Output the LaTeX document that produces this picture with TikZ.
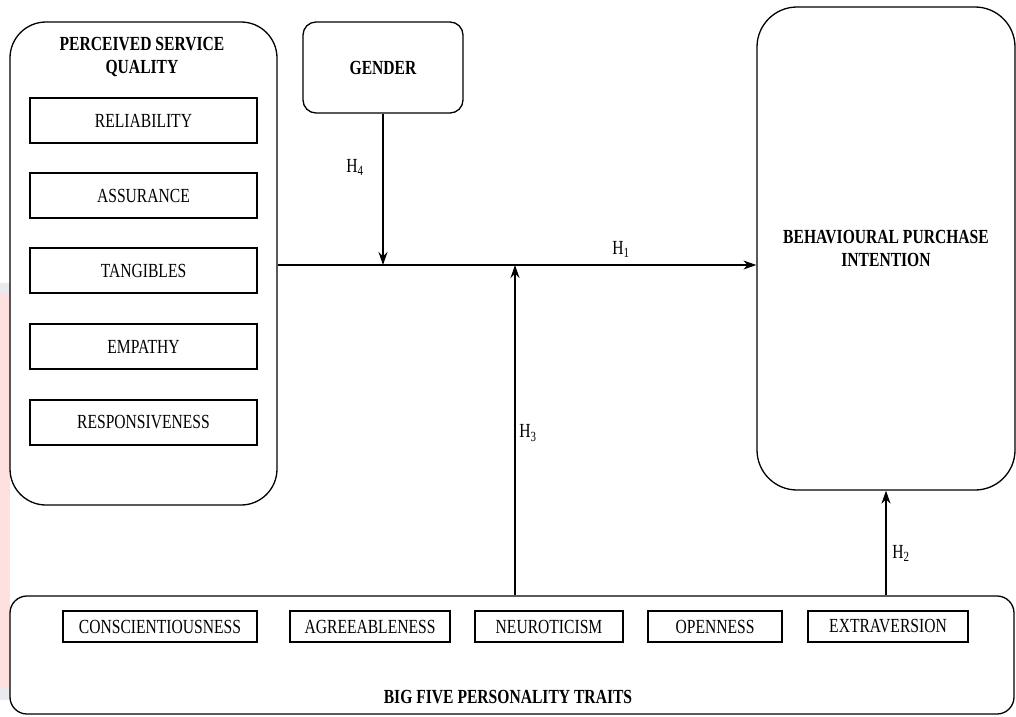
\documentclass[tikz,border=0pt]{standalone}
\usepackage{fontspec}
\setmainfont{Liberation Serif}[FakeStretch=0.78]
\usetikzlibrary{arrows.meta}
\begin{document}
\begin{tikzpicture}[x=1pt,y=-1pt,
  every node/.style={font=\fontsize{20}{23}\selectfont, inner sep=0pt},
  group/.style={draw, line width=1.3pt, rounded corners=#1},
  item/.style={draw, line width=1.2pt, minimum height=#1},
  title/.style={font=\fontsize{20}{23}\selectfont\bfseries, align=center},
  hyp/.style={font=\fontsize{20}{23}\selectfont},
  arr/.style={-{Stealth[length=13pt,width=9pt]}, line width=1.3pt}]
\useasboundingbox (0,0) rectangle (1016,716);

% soft tint along the left margin
\fill[blue!10!gray!15] (0,283) rectangle (10,700);
\fill[red!12] (0,293) rectangle (10,688);

% perceived service quality
\node[group=36pt, minimum width=267pt, minimum height=483pt] (psq) at (143.5,263.5) {};
\node[title] (psqt) at (142,57) {PERCEIVED SERVICE\\QUALITY};
\node[item=45pt, minimum width=227pt] (rel) at (143.5,120.5) {RELIABILITY};
\node[item=45pt, minimum width=227pt] (ass) at (143.5,195.5) {ASSURANCE};
\node[item=45pt, minimum width=227pt] (tan) at (143.5,270.5) {TANGIBLES};
\node[item=45pt, minimum width=227pt] (emp) at (143.5,346.5) {EMPATHY};
\node[item=45pt, minimum width=227pt] (res) at (143.5,422.5) {RESPONSIVENESS};

% gender
\node[group=13pt, minimum width=160pt, minimum height=91pt, title] (gender) at (383,67.5) {GENDER};

% behavioural purchase intention
\node[group=40pt, minimum width=258pt, minimum height=483pt, title] (bpi) at (886,248.5) {BEHAVIOURAL PURCHASE\\INTENTION};

% big five personality traits
\node[group=17pt, minimum width=1004pt, minimum height=118pt] (big) at (512,655) {};
\node[title] (bigt) at (508,697) {BIG FIVE PERSONALITY TRAITS};
\node[item=31pt, minimum width=194pt] (con) at (160,626.5) {CONSCIENTIOUSNESS};
\node[item=31pt, minimum width=160pt] (agr) at (370,626.5) {AGREEABLENESS};
\node[item=31pt, minimum width=148pt] (neu) at (549,626.5) {NEUROTICISM};
\node[item=31pt, minimum width=134pt] (ope) at (715,626.5) {OPENNESS};
\node[item=31pt, minimum width=160pt] (ext) at (888,626.5) {EXTRAVERSION};

% junctions on the main path
\coordinate (j4) at (383,265);
\coordinate (j3) at (515,265);

% hypotheses
\draw[arr] (psq.east |- j4) -- (bpi.west |- j4);
\draw[arr] (gender.south) -- (j4);
\draw[arr] (big.north -| j3) -- (j3);
\draw[arr] (big.north -| bpi.south) -- (bpi.south);

\node[hyp] (h1) at (621,249) {H\textsubscript{1}};
\node[hyp] (h2) at (901,553) {H\textsubscript{2}};
\node[hyp] (h3) at (528,433) {H\textsubscript{3}};
\node[hyp] (h4) at (355,167) {H\textsubscript{4}};
\end{tikzpicture}
\end{document}
